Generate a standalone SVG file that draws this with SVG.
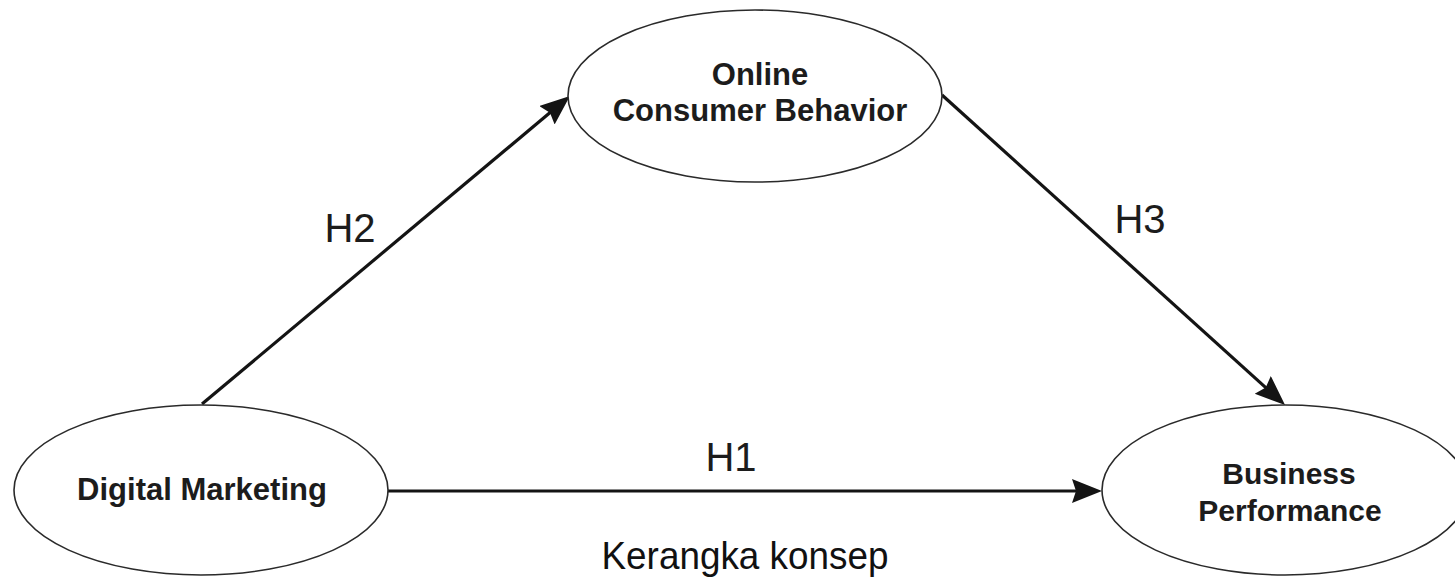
<svg xmlns="http://www.w3.org/2000/svg" width="1455" height="578" viewBox="0 0 1455 578">
  <style>
    .node ellipse { fill: #ffffff; stroke: #2a2a2a; stroke-width: 1.6; }
    .node text { font-family: "Liberation Sans", Arial, sans-serif; font-weight: bold; font-size: 31px; fill: #1c1c1c; text-anchor: middle; }
    .edge { stroke: #141414; stroke-width: 3.2; fill: none; }
    .hlabel { font-family: "Liberation Sans", Arial, sans-serif; font-size: 40px; fill: #1c1c1c; text-anchor: middle; }
    .caption { font-family: "Liberation Sans", Arial, sans-serif; font-size: 39px; fill: #111111; text-anchor: middle; }
  </style>
  <defs>
    <marker id="arrow" markerUnits="userSpaceOnUse" markerWidth="32" markerHeight="26" refX="10" refY="12" orient="auto" viewBox="0 0 32 26">
      <path d="M0,0 L30,12 L0,24 L4,12 z" fill="#141414"/>
    </marker>
  </defs>

  <rect width="1455" height="578" fill="#ffffff"/>

  <!-- connectors -->
  <g id="connectors">
    <line id="h1" class="edge" x1="388" y1="491" x2="1082" y2="491" marker-end="url(#arrow)"/>
    <line id="h2" class="edge" x1="202" y1="404" x2="554.6" y2="108.8" marker-end="url(#arrow)"/>
    <line id="h3" class="edge" x1="942" y1="95" x2="1270.2" y2="391.6" marker-end="url(#arrow)"/>
    <text class="hlabel" x="731" y="471">H1</text>
    <text class="hlabel" x="350" y="242">H2</text>
    <text class="hlabel" x="1140" y="233">H3</text>
  </g>

  <!-- nodes -->
  <g id="online-consumer-behavior" class="node">
    <ellipse cx="755" cy="96" rx="187" ry="86"/>
    <text x="760" y="85">Online</text>
    <text x="760" y="121">Consumer Behavior</text>
  </g>

  <g id="digital-marketing" class="node">
    <ellipse cx="201" cy="490" rx="187" ry="85"/>
    <text x="202" y="500">Digital Marketing</text>
  </g>

  <g id="business-performance" class="node">
    <ellipse cx="1285" cy="490" rx="183" ry="85"/>
    <text x="1289" y="484" style="font-size:30px">Business</text>
    <text x="1290" y="521" style="font-size:30px">Performance</text>
  </g>

  <!-- caption -->
  <text class="caption" x="745" y="569" textLength="287" lengthAdjust="spacingAndGlyphs">Kerangka konsep</text>
</svg>
